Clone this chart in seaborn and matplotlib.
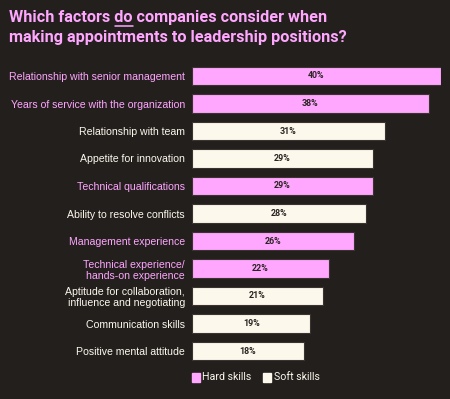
import matplotlib
matplotlib.use("Agg")
import matplotlib.pyplot as plt
import seaborn as sns
import pandas as pd

categories = [
    "Relationship with senior management",
    "Years of service with the organization",
    "Relationship with team",
    "Appetite for innovation",
    "Technical qualifications",
    "Ability to resolve conflicts",
    "Management experience",
    "Technical experience/\nhands-on experience",
    "Aptitude for collaboration,\ninfluence and negotiating",
    "Communication skills",
    "Positive mental attitude",
]
values = [40, 38, 31, 29, 29, 28, 26, 22, 21, 19, 18]
skill_type = ["Hard skills", "Hard skills", "Soft skills", "Soft skills", "Hard skills",
              "Soft skills", "Hard skills", "Hard skills", "Soft skills", "Soft skills", "Soft skills"]

BG = "#231f1d"
PINK = "#ffa6ff"
CREAM = "#fdf8ec"
DARK = "#2a2422"

df = pd.DataFrame({"cat": categories, "val": values, "type": skill_type})

sns.set_theme(style="white")
plt.rcParams["font.family"] = ["Liberation Sans", "DejaVu Sans"]

fig = plt.figure(figsize=(4.5, 3.99), dpi=100, facecolor=BG)
ax = fig.add_axes([192/450, 1-364.75/399, 249/450, (364.75-62.25)/399])
ax.set_facecolor(BG)

sns.barplot(data=df, y="cat", x="val", hue="type", orient="h", dodge=False,
            palette={"Hard skills": PINK, "Soft skills": CREAM},
            hue_order=["Hard skills", "Soft skills"], saturation=1,
            width=0.69, edgecolor="#3a3330", linewidth=0.8, legend=False, ax=ax)

ax.set_xlim(0, 40)
ax.set_ylim(10.5, -0.5)
ax.set_xlabel("")
ax.set_ylabel("")
ax.set_xticks([])
ax.set_yticks(range(len(categories)))
ax.set_yticklabels(categories, fontsize=7.6, linespacing=1.15)
for lab, t in zip(ax.get_yticklabels(), skill_type):
    lab.set_color(PINK if t == "Hard skills" else CREAM)
ax.tick_params(axis="y", length=0, pad=5)
for s in ax.spines.values():
    s.set_visible(False)

for i, v in enumerate(values):
    ax.text(v / 2, i, f"{v}%", ha="center", va="center", fontsize=6.4,
            fontweight="bold", color=DARK, family=["Roboto", "DejaVu Sans"])

# Title with underlined "do"
ty1 = 1 - 22/399
ty2 = 1 - 42/399
tx = 9/450
tkw = dict(fontsize=11.7, fontweight="bold", color=PINK, ha="left", va="baseline",
           family=["Roboto", "DejaVu Sans"])
fig.text(tx, ty1, "Which factors do companies consider when", **tkw)
fig.text(tx, ty2, "making appointments to leadership positions?", **tkw)
fig.canvas.draw()
r = fig.canvas.get_renderer()
pre = fig.text(tx, ty1, "Which factors ", **tkw)
wd = fig.text(tx, ty1, "Which factors do", **tkw)
b1 = pre.get_window_extent(r)
b2 = wd.get_window_extent(r)
pre.remove(); wd.remove()
x0 = b1.x1 / fig.bbox.width
x1 = b2.x1 / fig.bbox.width
uy = ty1 - 4/399
fig.add_artist(plt.Line2D([x0 + 0.002, x1], [uy, uy], color=PINK, lw=1.1,
                          transform=fig.transFigure))

# Legend
ly = 1 - 377/399
fig.add_artist(plt.Rectangle((192/450, ly - 4.5/399), 8/450, 9/399, color=PINK,
                             transform=fig.transFigure))
fig.text(202/450, ly, "Hard skills", fontsize=7.7, color=CREAM, va="center", ha="left",
         family=["Roboto", "DejaVu Sans"])
fig.add_artist(plt.Rectangle((263/450, ly - 4.5/399), 8/450, 9/399, color=CREAM,
                             transform=fig.transFigure))
fig.text(274/450, ly, "Soft skills", fontsize=7.7, color=CREAM, va="center", ha="left",
         family=["Roboto", "DejaVu Sans"])

fig.savefig("out.png", dpi=100, facecolor=BG)
